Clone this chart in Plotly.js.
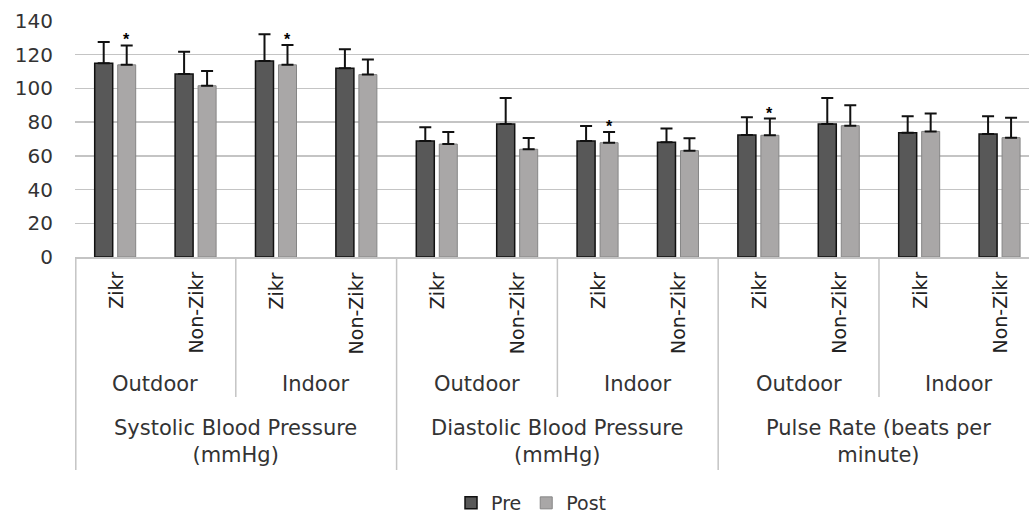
<!DOCTYPE html>
<html>
<head>
<meta charset="utf-8">
<script src="https://cdn.plot.ly/plotly-3.0.1.min.js"></script>
<style>html,body{margin:0;padding:0;background:#fff;overflow:hidden;}</style>
</head>
<body>
<div id="chart" style="width:1029px;height:513px;"></div>
<script>
// ---- data ----
var groups = ["Zikr", "Non-Zikr", "Zikr", "Non-Zikr", "Zikr", "Non-Zikr", "Zikr", "Non-Zikr", "Zikr", "Non-Zikr", "Zikr", "Non-Zikr"];
var settings = ["Outdoor", "Indoor", "Outdoor", "Indoor", "Outdoor", "Indoor"];
var measures = ["Systolic Blood Pressure<br>(mmHg)", "Diastolic Blood Pressure<br>(mmHg)", "Pulse Rate (beats per<br>minute)"];
var preValues  = [115, 108.5, 116.3, 112, 68.8, 78.9, 68.8, 68, 72.4, 78.9, 73.7, 73];
var preErrors  = [12.5, 13.3, 15.8, 11.3, 8.1, 15.4, 8.9, 8.3, 10.5, 15.4, 9.8, 10.5];
var postValues = [114, 101.6, 114, 108.2, 67, 63.9, 67.8, 63.1, 72.2, 77.9, 74.5, 70.8];
var postErrors = [11.5, 8.7, 11.7, 9, 7.1, 6.7, 6.3, 7.3, 9.9, 12.1, 10.7, 11.8];
var postSignificant = [true, false, true, false, false, false, true, false, true, false, false, false];
var yTicks = [0, 20, 40, 60, 80, 100, 120, 140];

var xIdx = groups.map(function (_, i) { return i; });
var barW = 0.224;
var preOff = -0.255, postOff = 0.031;

var font = "DejaVu Sans, Open Sans, sans-serif";
var textColor = "#333333";
var sepColor = "#c4c4c4";

var tracePre = {
  type: "bar", name: "Pre", x: xIdx, y: preValues,
  width: barW, offset: preOff,
  marker: {color: "#585858", line: {color: "#111111", width: 1.5}},
  error_y: {type: "data", symmetric: false, array: preErrors, arrayminus: preErrors.map(function(){return 0;}),
            color: "#111111", thickness: 2, width: 6},
  hoverinfo: "y"
};
var tracePost = {
  type: "bar", name: "Post", x: xIdx, y: postValues,
  width: barW, offset: postOff,
  marker: {color: "#a9a7a7", line: {color: "#858585", width: 1}},
  error_y: {type: "data", symmetric: false, array: postErrors, arrayminus: postErrors.map(function(){return 0;}),
            color: "#111111", thickness: 2, width: 6},
  hoverinfo: "y"
};

// pixel helpers for paper y (plot area: y=21 top -> y=257 bottom)
var plotTop = 21, plotBottom = 257, plotH = plotBottom - plotTop;
function py(pix) { return (plotBottom - pix) / plotH; }

var annotations = [];
var shapes = [];

// asterisks
postSignificant.forEach(function (sig, i) {
  if (!sig) return;
  annotations.push({
    x: i + postOff + barW / 2, y: postValues[i] + postErrors[i], xref: "x", yref: "y",
    text: "<b>*</b>", showarrow: false, yanchor: "bottom", xanchor: "center", yshift: -5,
    font: {family: "Liberation Sans, Arial, sans-serif", size: 16, color: "#000000"}
  });
});

// level 0: rotated group labels
groups.forEach(function (g, i) {
  annotations.push({
    x: i, y: py(270), xref: "x", yref: "paper", text: g, showarrow: false,
    textangle: -90, yanchor: "top", xanchor: "center",
    font: {family: font, size: 19, color: "#222222"}
  });
});
// level 1: settings
settings.forEach(function (s, j) {
  annotations.push({
    x: j * 2 + 0.5, y: py(384), xref: "x", yref: "paper", text: s, showarrow: false,
    yanchor: "middle", xanchor: "center",
    font: {family: font, size: 21, color: textColor}
  });
});
// level 2: measures
measures.forEach(function (m, k) {
  annotations.push({
    x: k * 4 + 1.5, y: py(441), xref: "x", yref: "paper", text: m, showarrow: false,
    yanchor: "middle", xanchor: "center",
    font: {family: font, size: 21, color: textColor}
  });
});

// separators
for (var b = 1; b < groups.length / 2; b++) {
  var xb = b * 2 - 0.5;
  var deep = (b % 2 === 0);
  shapes.push({type: "line", xref: "x", yref: "paper", x0: xb, x1: xb, y0: 0, y1: deep ? py(470) : py(397),
               line: {color: sepColor, width: 1.5}});
}
shapes.push({type: "line", xref: "x", yref: "paper", x0: -0.49, x1: -0.49, y0: 0, y1: py(470),
             line: {color: sepColor, width: 1.5}});

var layout = {
  width: 1029, height: 513,
  margin: {l: 75, r: 0, t: plotTop, b: 513 - plotBottom, pad: 0, autoexpand: false},
  paper_bgcolor: "#ffffff", plot_bgcolor: "#ffffff",
  barmode: "overlay",
  showlegend: true,
  legend: {orientation: "h", x: 0.478, xanchor: "center", y: py(503), yanchor: "middle",
           font: {family: font, size: 19, color: textColor}, itemwidth: 30, traceorder: "normal"},
  xaxis: {range: [-0.5, 11.366], showgrid: false, zeroline: false, showticklabels: false,
          ticks: "", showline: true, linecolor: sepColor, linewidth: 1.5, fixedrange: true},
  yaxis: {range: [0, 140], tickvals: yTicks, ticktext: yTicks.map(String), showgrid: true,
          gridcolor: "#c4c4c4", gridwidth: 1.3, zeroline: false, showline: false, ticks: "",
          ticklabelstandoff: 21, tickfont: {family: font, size: 20, color: textColor}, fixedrange: true},
  annotations: annotations,
  shapes: shapes,
  font: {family: font, color: textColor}
};

Plotly.newPlot("chart", [tracePre, tracePost], layout, {displayModeBar: false, staticPlot: true});
</script>
</body>
</html>
